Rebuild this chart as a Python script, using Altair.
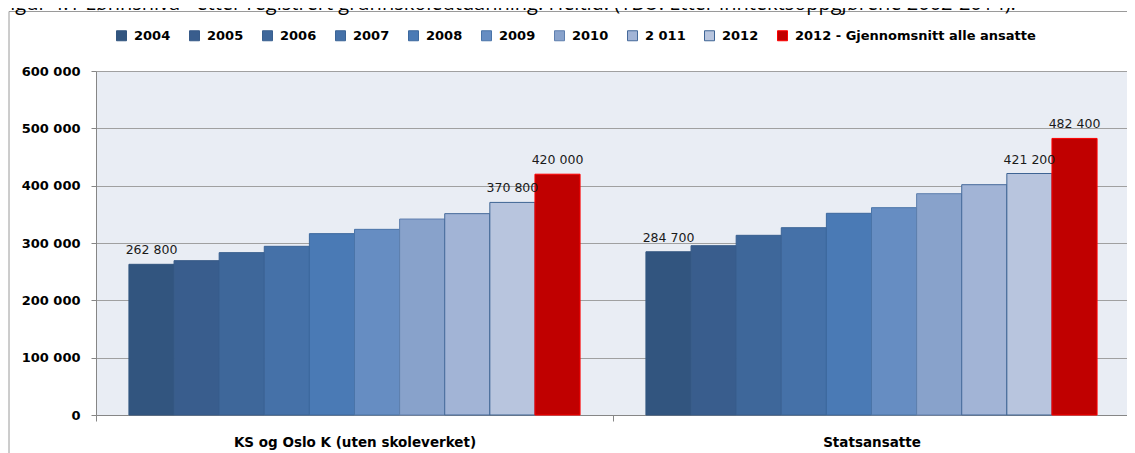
import altair as alt
import pandas as pd

groups = ["KS og Oslo K (uten skoleverket)", "Statsansatte"]
series = ["2004", "2005", "2006", "2007", "2008", "2009", "2010", "2 011", "2012",
          "2012 - Gjennomsnitt alle ansatte"]
ks_values = [262800, 269200, 283200, 294200, 316300, 323800, 341800, 351200, 370800, 420000]
stat_values = [284700, 295300, 313400, 326700, 351800, 361600, 386000, 401700, 421200, 482400]
labelled = ["2004", "2012", "2012 - Gjennomsnitt alle ansatte"]
fill_colors = ["#32557F", "#395D8D", "#3E679A", "#4571A8", "#4A7AB5", "#668DC2",
               "#88A2CB", "#A2B4D6", "#B8C5DE", "#C00000"]
stroke_colors = ["#32557F", "#375A88", "#385F8F", "#3B6496", "#3C689E", "#4A74A8",
                 "#5E7FAE", "#45699A", "#3E6494", "#FF0000"]
title_text = ("Figur 4.1 Lønnsnivå* etter registrert grunnskoleutdanning. Heltid. "
              "(TBU: Etter inntektsoppgjørene 2002-2014).")

rows = []
for g, vals in zip(groups, [ks_values, stat_values]):
    for s, v in zip(series, vals):
        lab = f"{v:,}".replace(",", " ") if s in labelled else ""
        rows.append({"group": g, "series": s, "value": v, "label": lab})
df = pd.DataFrame(rows)

FONT = "DejaVu Sans"
W, H = 1034, 344

x_enc = alt.X("group:N", sort=groups,
              scale=alt.Scale(paddingInner=0, paddingOuter=0),
              axis=alt.Axis(title=None, labelAngle=0, tickBand="extent", ticks=True,
                            tickSize=6, tickColor="#868686", domainColor="#868686",
                            labelFont=FONT, labelFontWeight="bold", labelFontSize=13.5,
                            labelColor="#000000", labelPadding=14, labelBaseline="top",
                            labelLimit=500))
xo_enc = alt.XOffset("series:N", sort=series,
                     scale=alt.Scale(paddingInner=0, paddingOuter=0.73))
y_enc = alt.Y("value:Q",
              scale=alt.Scale(domain=[0, 600000], nice=False),
              axis=alt.Axis(title=None, values=[0, 100000, 200000, 300000, 400000, 500000, 600000],
                            labelExpr="replace(format(datum.value, ','), ',', ' ')",
                            grid=True, gridColor="#A0A0A0", gridWidth=1.2,
                            domainColor="#868686", tickColor="#868686", tickSize=5,
                            labelFont=FONT, labelFontWeight="bold", labelFontSize=13,
                            labelColor="#000000", labelPadding=11))

legend = alt.Legend(title=None, orient="none", legendX=19, legendY=-42,
                    direction="horizontal", symbolType="square", symbolSize=100,
                    symbolStrokeWidth=1, labelFont=FONT, labelFontWeight="bold",
                    labelFontSize=13, labelColor="#000000", labelLimit=400,
                    columnPadding=16, labelOffset=6, padding=0)

base = alt.Chart(df)
bars = base.mark_bar(strokeWidth=1).encode(
    x=x_enc, xOffset=xo_enc, y=y_enc,
    color=alt.Color("series:N", sort=series,
                    scale=alt.Scale(domain=series, range=fill_colors), legend=legend),
    stroke=alt.Stroke("series:N", sort=series,
                      scale=alt.Scale(domain=series, range=stroke_colors), legend=legend),
)
labels = base.mark_text(font=FONT, fontSize=12.5, color="#1A1A1A", baseline="alphabetic",
                        dy=-10).encode(
    x=x_enc, xOffset=xo_enc, y=y_enc, text="label:N")

dummy = alt.Chart(pd.DataFrame({"t": [title_text]}))
frame = dummy.mark_rect(fill=None, stroke="#9A9A9A", strokeWidth=1).encode(
    x=alt.value(-87), x2=alt.value(1036), y=alt.value(-59.5), y2=alt.value(400))
title = dummy.mark_text(font="Open Sans", fontSize=20, align="left", baseline="alphabetic",
                        color="#000000").encode(
    x=alt.value(-96), y=alt.value(-61), text="t:N")

chart = alt.layer(frame, title, bars, labels).properties(
    width=W, height=H,
    autosize=alt.AutoSizeParams(type="none"),
    padding={"left": 88, "top": 63, "right": -3, "bottom": 38},
    background="#FFFFFF",
).configure_view(fill="#E9EDF4", stroke=None)

chart.save("out.html", embed_options={"renderer": "svg", "actions": False})
